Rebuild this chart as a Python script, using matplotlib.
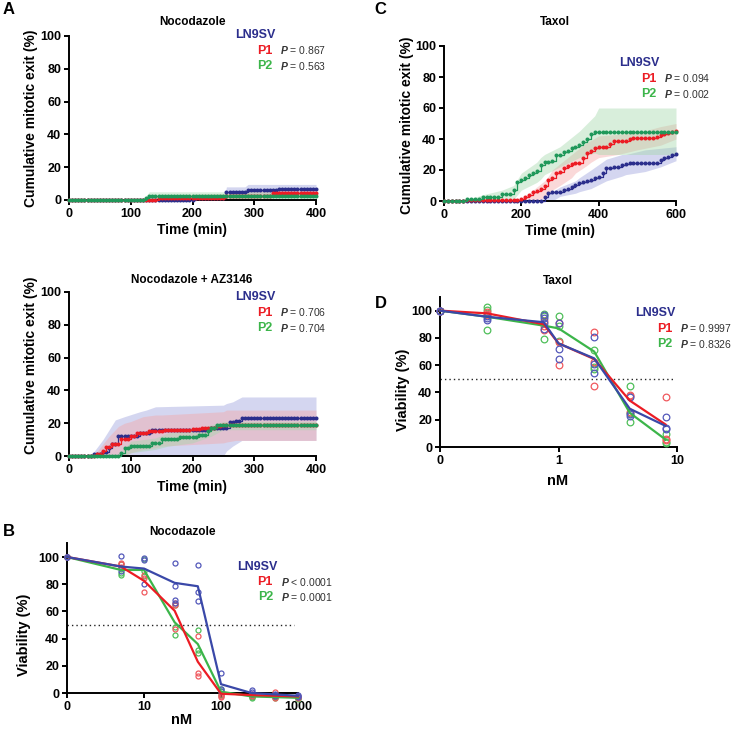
import matplotlib
matplotlib.use("Agg")
import matplotlib.pyplot as plt
import numpy as np
from matplotlib.ticker import NullLocator

plt.rcParams['font.family'] = ['Liberation Sans', 'DejaVu Sans']
plt.rcParams['font.weight'] = 'bold'
plt.rcParams['mathtext.fontset'] = 'custom'
plt.rcParams['mathtext.it'] = 'Liberation Sans:italic'
plt.rcParams['mathtext.rm'] = 'Liberation Sans'

NAVY = '#2b2e8c'
RED = '#ec1c24'
GREEN = '#3cb54a'
GREEN_DOT = '#20985a'
BLUE_LINE = '#3a48a8'
BLUE_PT = '#5358ba'
RED_PT = '#f0595e'
GREEN_PT = '#4fbf5a'

# ---- A: cumulative mitotic exit, nocodazole (frames every 5 min) ----
t_noc = np.arange(0, 401, 5)

noc_ln9sv = [0, 0, 0, 0, 0, 0, 0, 0, 0, 0,
             0, 0, 0, 0, 0, 0, 0, 0, 0, 0,
             0, 0, 0, 0, 0, 0, 0, 0, 0, 0,
             0, 0, 0, 0, 0, 0, 0, 0, 0, 0,
             0, 1, 1, 1, 1, 1, 1, 1, 1, 1,
             1, 4.7, 4.7, 4.7, 4.7, 4.7, 4.7, 4.7, 5.8, 5.8,
             5.8, 5.8, 5.8, 5.8, 5.8, 5.8, 5.8, 5.8, 6.5, 6.5,
             6.5, 6.5, 6.5, 6.5, 6.5, 6.5, 6.5, 6.5, 6.5, 6.5,
             6.5]
noc_p1 = [0, 0, 0, 0, 0, 0, 0, 0, 0, 0,
          0, 0, 0, 0, 0, 0, 0, 0, 0, 0,
          0, 0, 0, 0, 0, 0, 0, 0, 0, 1,
          1, 1, 1, 1, 1, 1, 1, 1, 1, 1,
          1, 1, 1, 1, 1, 1, 1, 1, 1, 1,
          1, 2.5, 2.5, 2.5, 2.5, 2.5, 2.5, 2.5, 2.5, 2.5,
          2.5, 2.5, 2.5, 2.5, 2.5, 2.5, 4, 4, 4, 4,
          4, 4, 4, 4, 4, 4, 4, 4, 4, 4,
          4]
noc_p2 = [0, 0, 0, 0, 0, 0, 0, 0, 0, 0,
          0, 0, 0, 0, 0, 0, 0, 0, 0, 0,
          0, 0, 0, 0, 0, 1.5, 2.5, 2.5, 2.5, 2.5,
          2.5, 2.5, 2.5, 2.5, 2.5, 2.5, 2.5, 2.5, 2.5, 2.5,
          2.5, 2.5, 2.5, 2.5, 2.5, 2.5, 2.5, 2.5, 2.5, 2.5,
          2.5, 2.5, 2.5, 2.5, 2.5, 2.5, 2.5, 2.5, 2.5, 2.5,
          2.5, 2.5, 2.5, 2.5, 2.5, 2.5, 2.5, 2.5, 2.5, 2.5,
          2.5, 2.5, 2.5, 2.5, 2.5, 2.5, 2.5, 2.5, 2.5, 2.5,
          2.5]

noc_band_ln9sv_t = [250, 255, 285, 290, 400]
noc_band_ln9sv_lo = [0, 2, 2, 2.5, 3.5]
noc_band_ln9sv_hi = [0, 8, 8, 9.5, 9.5]
noc_band_p1_t = [125, 145, 255, 330, 400]
noc_band_p1_lo = [0, 0, 0, 1.5, 1.5]
noc_band_p1_hi = [0, 3, 4, 6, 6]
noc_band_p2_t = [120, 130, 400]
noc_band_p2_lo = [0, 0.5, 0.8]
noc_band_p2_hi = [0, 5, 5]

# ---- A: nocodazole + AZ3146 ----
az_ln9sv = [0, 0, 0, 0, 0, 0, 0, 0, 1.4, 1.4,
            1.4, 2.5, 2.5, 5, 7.5, 7.5, 12.5, 12.5, 12.5, 12.5,
            12.5, 12.5, 12.5, 14, 14, 14, 14, 16, 16, 16,
            16, 16, 16, 16, 16, 16, 16, 16, 16, 16,
            16, 16, 16, 16, 16, 16, 17, 17, 17, 17,
            17, 17, 20.9, 20.9, 21.5, 21.5, 22.9, 22.9, 22.9, 22.9,
            22.9, 22.9, 22.9, 22.9, 22.9, 22.9, 22.9, 22.9, 22.9, 22.9,
            22.9, 22.9, 22.9, 22.9, 22.9, 22.9, 22.9, 22.9, 22.9, 22.9,
            22.9]
az_p1 = [0, 0, 0, 0, 0, 0, 0, 0, 0, 1.5,
         1.5, 3, 5.3, 5.3, 7.5, 7.5, 7.5, 10.3, 10.3, 10.3,
         12, 12, 14, 14, 14, 14, 15, 15, 15, 15,
         15, 16, 16, 16, 16, 16, 16, 16, 16, 16,
         16.5, 16.5, 16.5, 17, 17, 17, 17, 17, 18, 18,
         18.8, 18.8, 18.8, 18.8, 18.8, 18.8, 18.8, 18.8, 18.8, 18.8,
         18.8, 18.8, 18.8, 18.8, 18.8, 18.8, 18.8, 18.8, 18.8, 18.8,
         18.8, 18.8, 18.8, 18.8, 18.8, 18.8, 18.8, 18.8, 18.8, 18.8,
         18.8]
az_p2 = [0, 0, 0, 0, 0, 0, 0, 0, 0, 0,
         0, 0, 0, 0, 0, 0, 0, 2, 5, 5,
         6.3, 6.3, 6.3, 6.3, 6.3, 6.3, 6.3, 8.1, 8.1, 8.1,
         10.1, 10.1, 10.1, 10.1, 10.1, 10.1, 11.8, 11.8, 11.8, 11.8,
         11.8, 11.8, 13, 13, 13, 15, 17, 17, 18.8, 18.8,
         18.8, 18.8, 18.8, 18.8, 18.8, 18.8, 18.8, 18.8, 18.8, 18.8,
         18.8, 18.8, 18.8, 18.8, 18.8, 18.8, 18.8, 18.8, 18.8, 18.8,
         18.8, 18.8, 18.8, 18.8, 18.8, 18.8, 18.8, 18.8, 18.8, 18.8,
         18.8]

az_band_ln9sv_t = [35, 55, 75, 90, 115, 125, 140, 250, 255, 265, 280, 400]
az_band_ln9sv_lo = [0, 0, 0, 0, 0, 0, 0, 0, 3, 6, 9.5, 9.5]
az_band_ln9sv_hi = [0, 10, 22, 24, 27, 28, 30, 31, 32, 33, 36, 36]
az_band_p1_t = [40, 50, 65, 80, 90, 100, 120, 140, 150, 200, 250, 255, 270, 400]
az_band_p1_lo = [0, 0, 0, 0, 0, 2, 4, 5, 6, 7, 8, 8.5, 9.5, 9.5]
az_band_p1_hi = [0, 5, 12, 18, 20, 21, 24, 25, 25, 26, 27, 28, 28, 28]
az_band_p2_t = [80, 90, 100, 140, 160, 200, 230, 250, 400]
az_band_p2_lo = [0, 0, 2, 4, 6, 8, 12, 16, 16]
az_band_p2_hi = [0, 5, 9, 11, 14, 16, 19, 21, 21]

# ---- C: cumulative mitotic exit, taxol (frames every 10 min) ----
t_tax = np.arange(0, 601, 10)

tax_ln9sv = [0, 0, 0, 0, 0, 0, 0, 0, 0, 0,
             0, 0, 0, 0, 0, 0, 0, 0, 0, 0,
             0, 0, 0, 0, 0, 0, 2.8, 5, 6, 6,
             6, 7, 8, 9.3, 10.3, 11.5, 12.5, 13, 13.6, 15,
             15.7, 18.3, 21, 21.5, 22, 22.2, 23, 23.7, 24.5, 24.8,
             24.8, 24.8, 24.8, 24.8, 24.8, 24.8, 26.5, 27.5, 28.7, 29.5,
             30.2]
tax_p1 = [0, 0, 0, 0, 0, 0, 0.5, 0.5, 0.5, 0.5,
          0.5, 0.5, 0.5, 0.5, 0.5, 0.5, 0.5, 0.5, 0.5, 0.5,
          1, 2.5, 3.9, 5.5, 6.5, 8, 9.5, 13.6, 14.7, 18,
          19, 21, 22.5, 24, 24.5, 24.8, 28, 30.8, 32.5, 34,
          35, 35, 35, 37, 38.4, 38.4, 38.4, 39, 40, 40.5,
          40.5, 40.5, 40.5, 40.5, 40.5, 41.5, 42.7, 43, 44, 44.5,
          45]
tax_p2 = [0, 0, 0, 0, 0, 0, 1.3, 1.3, 1.3, 1.3,
          2.5, 2.5, 2.5, 2.5, 2.5, 4.5, 4.5, 4.5, 7, 12,
          13.5, 15, 16.5, 18, 19.5, 23, 25, 25, 25.5, 29.7,
          29.7, 31.5, 32.5, 34, 35, 36, 38, 40, 43, 44.4,
          44.4, 44.4, 44.4, 44.4, 44.4, 44.4, 44.4, 44.4, 44.4, 44.4,
          44.4, 44.4, 44.4, 44.4, 44.4, 44.4, 44.4, 44.4, 44.4, 44.4,
          44.4]

tax_band_ln9sv_t = [250, 270, 280, 300, 340, 350, 380, 420, 460, 470, 520, 560, 600]
tax_band_ln9sv_lo = [0, 0, 0, 3, 5, 6, 8, 13, 16, 17, 19, 22, 26]
tax_band_ln9sv_hi = [0, 5, 6, 9, 13, 15, 20, 27, 30, 30, 33, 34, 35]
tax_band_p1_t = [190, 220, 230, 260, 270, 280, 300, 330, 340, 370, 380, 400, 450, 500, 560, 600]
tax_band_p1_lo = [0, 0, 0, 2, 5, 7, 10, 15, 18, 23, 25, 28, 30, 33, 36, 40]
tax_band_p1_hi = [0, 5, 7, 13, 16, 20, 24, 30, 32, 38, 39, 42, 43, 44, 48, 50]
tax_band_p2_t = [50, 100, 150, 180, 200, 240, 250, 260, 300, 350, 390, 400, 600]
tax_band_p2_lo = [0, 0, 0, 1, 7, 12, 14, 17, 22, 28, 31, 30, 30]
tax_band_p2_hi = [0, 4, 7, 10, 18, 25, 28, 30, 35, 45, 55, 60, 60]

# ---- B: viability, nocodazole ----
noc_dose = [0, 5, 10, 25, 50, 100, 250, 500, 1000]
noc_mean_ln9sv = [100, 93, 91.5, 81, 78.5, 6.5, 0, -1, -2]
noc_mean_p1 = [100, 93, 82.5, 60.5, 23, -0.5, -1.5, -2, -2.5]
noc_mean_p2 = [100, 90.5, 90.5, 52, 36, 1, -2.5, -3, -3.5]
noc_pts_ln9sv = [[100, 100, 100], [100.5, 92, 90], [99, 97.5, 80], [95.5, 79, 68.5, 66.5],
                 [94, 74.5, 67.5], [14.5, 3, 1.5], [2, 0.5, -0.5], [-1, -1.5, -2], [-1.5, -2.5, -3]]
noc_pts_p1 = [[100, 100, 100], [95.5, 94.5, 93], [87, 84.5, 74], [66, 65, 47],
              [42, 14.5, 12.5], [-1, -2, -3], [-1, -1.5, -2], [0.5, -2.5, -4], [-2, -3, -3.5]]
noc_pts_p2 = [[100, 100, 100], [95, 88.5, 87], [98.5, 90, 86], [65, 48.5, 43],
              [46.5, 32, 29.5], [3, 1.5, -1.5], [-2.5, -3, -3.5], [-2.5, -3, -3.5], [-3.5, -4, -4.5]]

# ---- D: viability, taxol ----
tax_dose = [0, 0.25, 0.75, 1, 2, 4, 8]
tax_mean_ln9sv = [100, 95.5, 91.5, 76, 65, 28, 15.5]
tax_mean_p1 = [100, 98, 90, 76, 64.5, 34, 16.5]
tax_mean_p2 = [100, 95.5, 89, 87, 70, 25, 5.5]
tax_pts_ln9sv = [[100, 100, 100], [96, 94.5, 93.5], [96.5, 94.5, 91, 86.5], [91, 72, 64.5],
                 [81, 61, 54], [36.5, 24.5, 23], [22, 14, 13]]
tax_pts_p1 = [[100, 100, 100], [99, 97.5, 96.5], [92.5, 88.5, 86], [91, 77, 60],
              [84.5, 62, 45], [38.5, 37.5, 26], [37, 6, 5]]
tax_pts_p2 = [[100, 100, 100], [102.5, 100.5, 85.5], [97.5, 96, 79.5], [96, 88.5, 77.5],
              [71, 59, 57], [45, 25, 18], [9.5, 4, 3]]

W, H = 733, 729
fig = plt.figure(figsize=(W / 100, H / 100), dpi=100)


def px_axes(x0, x1, y_top, y_bot):
    return fig.add_axes([x0 / W, 1 - y_bot / H, (x1 - x0) / W, (y_bot - y_top) / H])


def ftext(x, y, s, **kw):
    fig.text(x / W, 1 - y / H, s, **kw)


def style(ax):
    for s in ['top', 'right']:
        ax.spines[s].set_visible(False)
    for s in ['left', 'bottom']:
        ax.spines[s].set_linewidth(1.4)
    ax.tick_params(width=1.4, length=3.5, labelsize=9, pad=2)


def legend(xr, y0, dy, p1, p2):
    ftext(xr + 4, y0, 'LN9SV', color=NAVY, fontsize=9, ha='right', va='center')
    ftext(xr, y0 + dy, 'P1', color=RED, fontsize=9, ha='right', va='center')
    ftext(xr, y0 + 2 * dy, 'P2', color=GREEN, fontsize=9, ha='right', va='center')
    ftext(xr + 8, y0 + dy, p1, color='#333333', fontsize=7.5, fontweight='normal', va='center')
    ftext(xr + 8, y0 + 2 * dy, p2, color='#333333', fontsize=7.5, fontweight='normal', va='center')


def exit_panel(ax, t, curves, bands, xmax, xticks):
    band_cols = ['#9a9fdc', '#f5a5a5', '#a3d8aa']
    for (bt, lo, hi), c in zip(bands, band_cols):
        ax.fill_between(bt, lo, hi, color=c, alpha=0.42, lw=0)
    for y, c in zip(curves, [NAVY, RED, GREEN_DOT]):
        ax.plot(t, y, color=c, lw=0.9, marker='o', ms=2.9, mew=0,
                drawstyle='steps-post', clip_on=False, zorder=3)
    ax.set_xlim(0, xmax)
    ax.set_ylim(0, 100)
    ax.set_xticks(xticks)
    ax.set_yticks([0, 20, 40, 60, 80, 100])
    style(ax)


def viab_panel(ax, dose, zero_pos, means, pts, ms, dot_end):
    xpos = [zero_pos if d == 0 else d for d in dose]
    ax.plot([zero_pos, dot_end], [50, 50], color='#222222', lw=1.0, ls=(0, (1, 2.2)))
    for m, p, lc, pc in zip(means[::-1], pts[::-1],
                            [GREEN, RED, BLUE_LINE], [GREEN_PT, RED_PT, BLUE_PT]):
        for x, vals in zip(xpos, p):
            ax.plot([x] * len(vals), vals, ls='none', marker='o', ms=ms, mfc='none',
                    mec=pc, mew=0.9, clip_on=False, zorder=3)
        ax.plot(xpos, m, color=lc, lw=1.6, clip_on=False, zorder=4)
    ax.set_xscale('log')
    ax.xaxis.set_minor_locator(NullLocator())
    ax.set_yticks([0, 20, 40, 60, 80, 100])
    style(ax)


# A top
ax1 = px_axes(69, 316, 36, 200)
exit_panel(ax1, t_noc, [noc_ln9sv, noc_p1, noc_p2],
           [(noc_band_ln9sv_t, noc_band_ln9sv_lo, noc_band_ln9sv_hi),
            (noc_band_p1_t, noc_band_p1_lo, noc_band_p1_hi),
            (noc_band_p2_t, noc_band_p2_lo, noc_band_p2_hi)], 400, [0, 100, 200, 300, 400])
ftext(192, 22, 'Nocodazole', fontsize=8.5, ha='center', va='center')
ftext(192, 230, 'Time (min)', fontsize=10, ha='center', va='center')
ftext(31, 118, 'Cumulative mitotic exit (%)', fontsize=10, rotation=90, ha='center', va='center')
legend(272, 35, 15.5, r'$P$ = 0.867', r'$P$ = 0.563')
ftext(3, 10, 'A', fontsize=12, va='center')

# A bottom
ax2 = px_axes(69, 316, 292, 456)
exit_panel(ax2, t_noc, [az_ln9sv, az_p1, az_p2],
           [(az_band_ln9sv_t, az_band_ln9sv_lo, az_band_ln9sv_hi),
            (az_band_p1_t, az_band_p1_lo, az_band_p1_hi),
            (az_band_p2_t, az_band_p2_lo, az_band_p2_hi)], 400, [0, 100, 200, 300, 400])
ftext(192, 280, 'Nocodazole + AZ3146', fontsize=8.5, ha='center', va='center')
ftext(192, 487, 'Time (min)', fontsize=10, ha='center', va='center')
ftext(31, 365, 'Cumulative mitotic exit (%)', fontsize=10, rotation=90, ha='center', va='center')
legend(272, 297, 15.5, r'$P$ = 0.706', r'$P$ = 0.704')

# C
ax3 = px_axes(444, 676, 46, 201)
exit_panel(ax3, t_tax, [tax_ln9sv, tax_p1, tax_p2],
           [(tax_band_ln9sv_t, tax_band_ln9sv_lo, tax_band_ln9sv_hi),
            (tax_band_p1_t, tax_band_p1_lo, tax_band_p1_hi),
            (tax_band_p2_t, tax_band_p2_lo, tax_band_p2_hi)], 600, [0, 200, 400, 600])
ftext(555, 22, 'Taxol', fontsize=8.5, ha='center', va='center')
ftext(560, 231, 'Time (min)', fontsize=10, ha='center', va='center')
ftext(407, 125, 'Cumulative mitotic exit (%)', fontsize=10, rotation=90, ha='center', va='center')
legend(656, 63, 15.5, r'$P$ = 0.094', r'$P$ = 0.002')
ftext(374, 9, 'C', fontsize=12, va='center')

# B
ax4 = px_axes(67, 298, 543.4, 701.2)
viab_panel(ax4, noc_dose, 1, [noc_mean_ln9sv, noc_mean_p1, noc_mean_p2],
           [noc_pts_ln9sv, noc_pts_p1, noc_pts_p2], 3.6, 900)
ax4.set_xlim(1, 1000)
ax4.set_ylim(-6, 110)
ax4.spines['bottom'].set_position(('data', 0))
ax4.spines['left'].set_bounds(0, 110)
ax4.set_xticks([1, 10, 100, 1000])
ax4.set_xticklabels(['0', '10', '100', '1000'])
ftext(182, 532, 'Nocodazole', fontsize=8.5, ha='center', va='center')
ftext(182, 720, 'nM', fontsize=10.5, ha='center', va='center')
ftext(24, 635, 'Viability (%)', fontsize=10.5, rotation=90, ha='center', va='center')
legend(273, 567, 15, r'$P$ < 0.0001', r'$P$ = 0.0001')
ftext(3, 532, 'B', fontsize=12, va='center')

# D
ax5 = px_axes(440, 677, 297, 447)
viab_panel(ax5, tax_dose, 0.1, [tax_mean_ln9sv, tax_mean_p1, tax_mean_p2],
           [tax_pts_ln9sv, tax_pts_p1, tax_pts_p2], 4.8, 9.3)
ax5.set_xlim(0.1, 10)
ax5.set_ylim(0, 110)
ax5.set_xticks([0.1, 1, 10])
ax5.set_xticklabels(['0', '1', '10'])
ftext(558, 281, 'Taxol', fontsize=8.5, ha='center', va='center')
ftext(558, 481, 'nM', fontsize=10.5, ha='center', va='center')
ftext(403, 390, 'Viability (%)', fontsize=10.5, rotation=90, ha='center', va='center')
legend(672, 313, 15.5, r'$P$ = 0.9997', r'$P$ = 0.8326')
ftext(375, 303, 'D', fontsize=12, va='center')

fig.savefig('out.png', dpi=100)
